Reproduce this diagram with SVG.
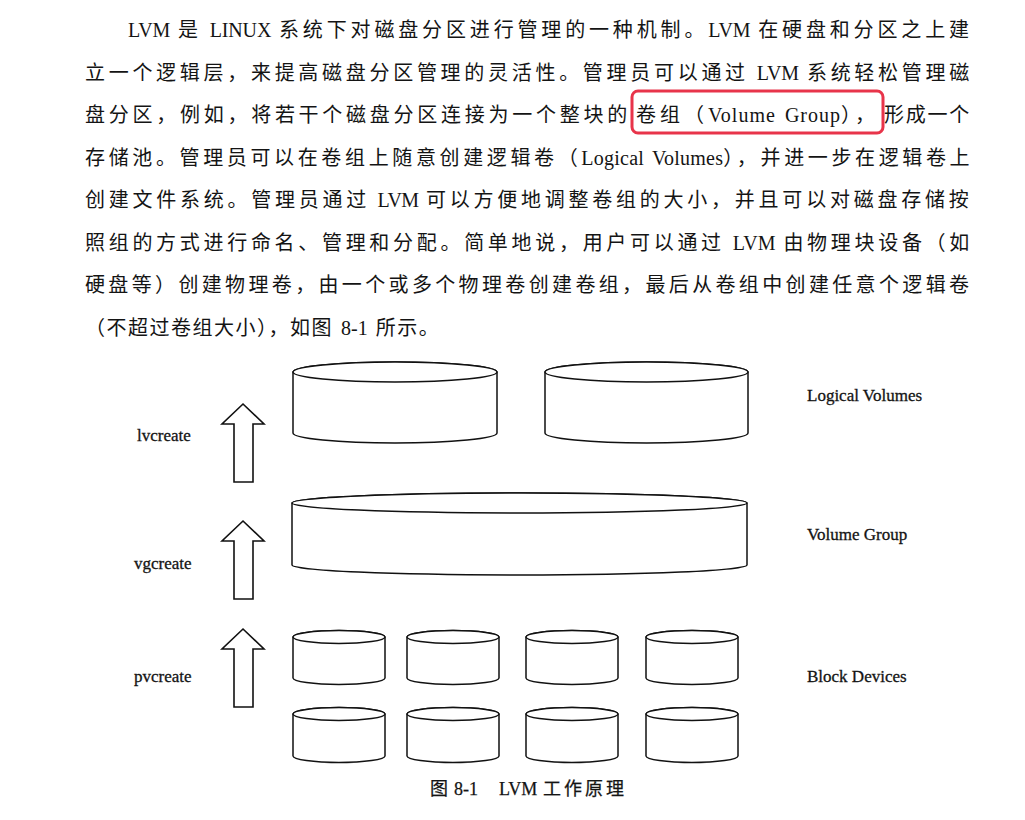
<svg xmlns="http://www.w3.org/2000/svg" width="1025" height="820" viewBox="0 0 1025 820">
<style>
  .para { font-family: "Liberation Serif", "Noto Sans CJK SC", serif; font-size: 20px; fill: #141414; }
  .lt { letter-spacing: 0px; word-spacing: 3px; }
  .lbl { font-family: "Liberation Serif", "Noto Sans CJK SC", serif; font-size: 17px; fill: #141414; stroke: #141414; stroke-width: 0.3; }
  .cap { font-family: "Liberation Serif", "Noto Sans CJK SC", serif; font-size: 18px; fill: #141414; stroke: #141414; stroke-width: 0.25; }
  .cyl { fill: #ffffff; stroke: #111111; stroke-width: 1.5; }
  .arrow { fill: #ffffff; stroke: #111111; stroke-width: 1.6; stroke-linejoin: miter; }
  .hl { fill: none; stroke: #e8344a; stroke-width: 3; }
</style>
<defs>
  <path id="uparrow" d="M0,0 L21,20 L10,20 L10,78 L-9,78 L-9,20 L-21,20 Z"/>
</defs>
<rect width="1025" height="820" fill="#ffffff"/>

<g id="paragraph">
  <text class="para" x="128" y="37" textLength="845" lengthAdjust="spacing" style="letter-spacing:4px"><tspan class="lt">LVM </tspan>是<tspan class="lt"> LINUX </tspan>系统下对磁盘分区进行管理的一种机制。<tspan class="lt">LVM </tspan>在硬盘和分区之上建</text>
  <text class="para" x="85" y="80" textLength="888" lengthAdjust="spacing" style="letter-spacing:3.8px">立一个逻辑层，来提高磁盘分区管理的灵活性。管理员可以通过<tspan class="lt"> LVM </tspan>系统轻松管理磁</text>
  <text class="para" x="85" y="122" textLength="546" lengthAdjust="spacing" style="letter-spacing:3.8px">盘分区，例如，将若干个磁盘分区连接为一个整块的</text>
  <text class="para" x="636" y="122" textLength="242" lengthAdjust="spacing" style="letter-spacing:3px">卷组（<tspan class="lt">Volume Group</tspan>），</text>
  <text class="para" x="884" y="122" textLength="89" lengthAdjust="spacing" style="letter-spacing:3.8px">形成一个</text>
  <text class="para" x="85" y="165" textLength="888" lengthAdjust="spacing" style="letter-spacing:3.4px">存储池。管理员可以在卷组上随意创建逻辑卷（<tspan class="lt">Logical Volumes</tspan>），并进一步在逻辑卷上</text>
  <text class="para" x="85" y="207" textLength="888" lengthAdjust="spacing" style="letter-spacing:4.3px">创建文件系统。管理员通过<tspan class="lt"> LVM </tspan>可以方便地调整卷组的大小，并且可以对磁盘存储按</text>
  <text class="para" x="85" y="250" textLength="888" lengthAdjust="spacing" style="letter-spacing:3.7px">照组的方式进行命名、管理和分配。简单地说，用户可以通过<tspan class="lt"> LVM </tspan>由物理块设备（如</text>
  <text class="para" x="85" y="292" textLength="888" lengthAdjust="spacing" style="letter-spacing:4px">硬盘等）创建物理卷，由一个或多个物理卷创建卷组，最后从卷组中创建任意个逻辑卷</text>
  <text class="para" x="85" y="335" style="letter-spacing:1.5px">（不超过卷组大小），如图<tspan class="lt"> 8-1 </tspan>所示。</text>
  <rect class="hl" x="632" y="91" width="251" height="42" rx="6"/>
</g>

<g id="lv1">
  <path class="cyl" d="M293,372 A102,10 0 0 1 497,372 L497,433 A102,10 0 0 1 293,433 Z"/>
  <ellipse class="cyl" cx="395" cy="372" rx="102" ry="10"/>
</g>
<g id="lv2">
  <path class="cyl" d="M545,372 A101.5,10 0 0 1 748,372 L748,433 A101.5,10 0 0 1 545,433 Z"/>
  <ellipse class="cyl" cx="646.5" cy="372" rx="101.5" ry="10"/>
</g>
<g id="vg">
  <path class="cyl" d="M292,503 A227.5,10 0 0 1 747,503 L747,565 A227.5,10 0 0 1 292,565 Z"/>
  <ellipse class="cyl" cx="519.5" cy="503" rx="227.5" ry="10"/>
</g>

<g id="bd1">
  <path class="cyl" d="M293,637 A46,6.5 0 0 1 385,637 L385,678 A46,6.5 0 0 1 293,678 Z"/>
  <ellipse class="cyl" cx="339" cy="637" rx="46" ry="6.5"/>
</g>
<g id="bd2">
  <path class="cyl" d="M407,637 A46,6.5 0 0 1 499,637 L499,678 A46,6.5 0 0 1 407,678 Z"/>
  <ellipse class="cyl" cx="453" cy="637" rx="46" ry="6.5"/>
</g>
<g id="bd3">
  <path class="cyl" d="M526,637 A46,6.5 0 0 1 618,637 L618,678 A46,6.5 0 0 1 526,678 Z"/>
  <ellipse class="cyl" cx="572" cy="637" rx="46" ry="6.5"/>
</g>
<g id="bd4">
  <path class="cyl" d="M646,637 A46,6.5 0 0 1 738,637 L738,678 A46,6.5 0 0 1 646,678 Z"/>
  <ellipse class="cyl" cx="692" cy="637" rx="46" ry="6.5"/>
</g>
<g id="bd5">
  <path class="cyl" d="M293,714 A46,6.5 0 0 1 385,714 L385,756 A46,6.5 0 0 1 293,756 Z"/>
  <ellipse class="cyl" cx="339" cy="714" rx="46" ry="6.5"/>
</g>
<g id="bd6">
  <path class="cyl" d="M407,714 A46,6.5 0 0 1 499,714 L499,756 A46,6.5 0 0 1 407,756 Z"/>
  <ellipse class="cyl" cx="453" cy="714" rx="46" ry="6.5"/>
</g>
<g id="bd7">
  <path class="cyl" d="M526,714 A46,6.5 0 0 1 618,714 L618,756 A46,6.5 0 0 1 526,756 Z"/>
  <ellipse class="cyl" cx="572" cy="714" rx="46" ry="6.5"/>
</g>
<g id="bd8">
  <path class="cyl" d="M646,714 A46,6.5 0 0 1 738,714 L738,756 A46,6.5 0 0 1 646,756 Z"/>
  <ellipse class="cyl" cx="692" cy="714" rx="46" ry="6.5"/>
</g>

<g id="connectors">
  <use href="#uparrow" class="arrow" x="243" y="404"/>
  <use href="#uparrow" class="arrow" x="243" y="521"/>
  <use href="#uparrow" class="arrow" x="243" y="629"/>
</g>

<g id="labels">
  <text class="lbl" x="137" y="441">lvcreate</text>
  <text class="lbl" x="134" y="569">vgcreate</text>
  <text class="lbl" x="134" y="682">pvcreate</text>
  <text class="lbl" x="807" y="401">Logical Volumes</text>
  <text class="lbl" x="807" y="540">Volume Group</text>
  <text class="lbl" x="807" y="682">Block Devices</text>
</g>

<g id="caption">
  <text class="cap" y="795"><tspan x="430">图</tspan><tspan x="454">8-1</tspan><tspan x="499">LVM</tspan><tspan x="543" style="letter-spacing:3px">工作原理</tspan></text>
</g>
</svg>
